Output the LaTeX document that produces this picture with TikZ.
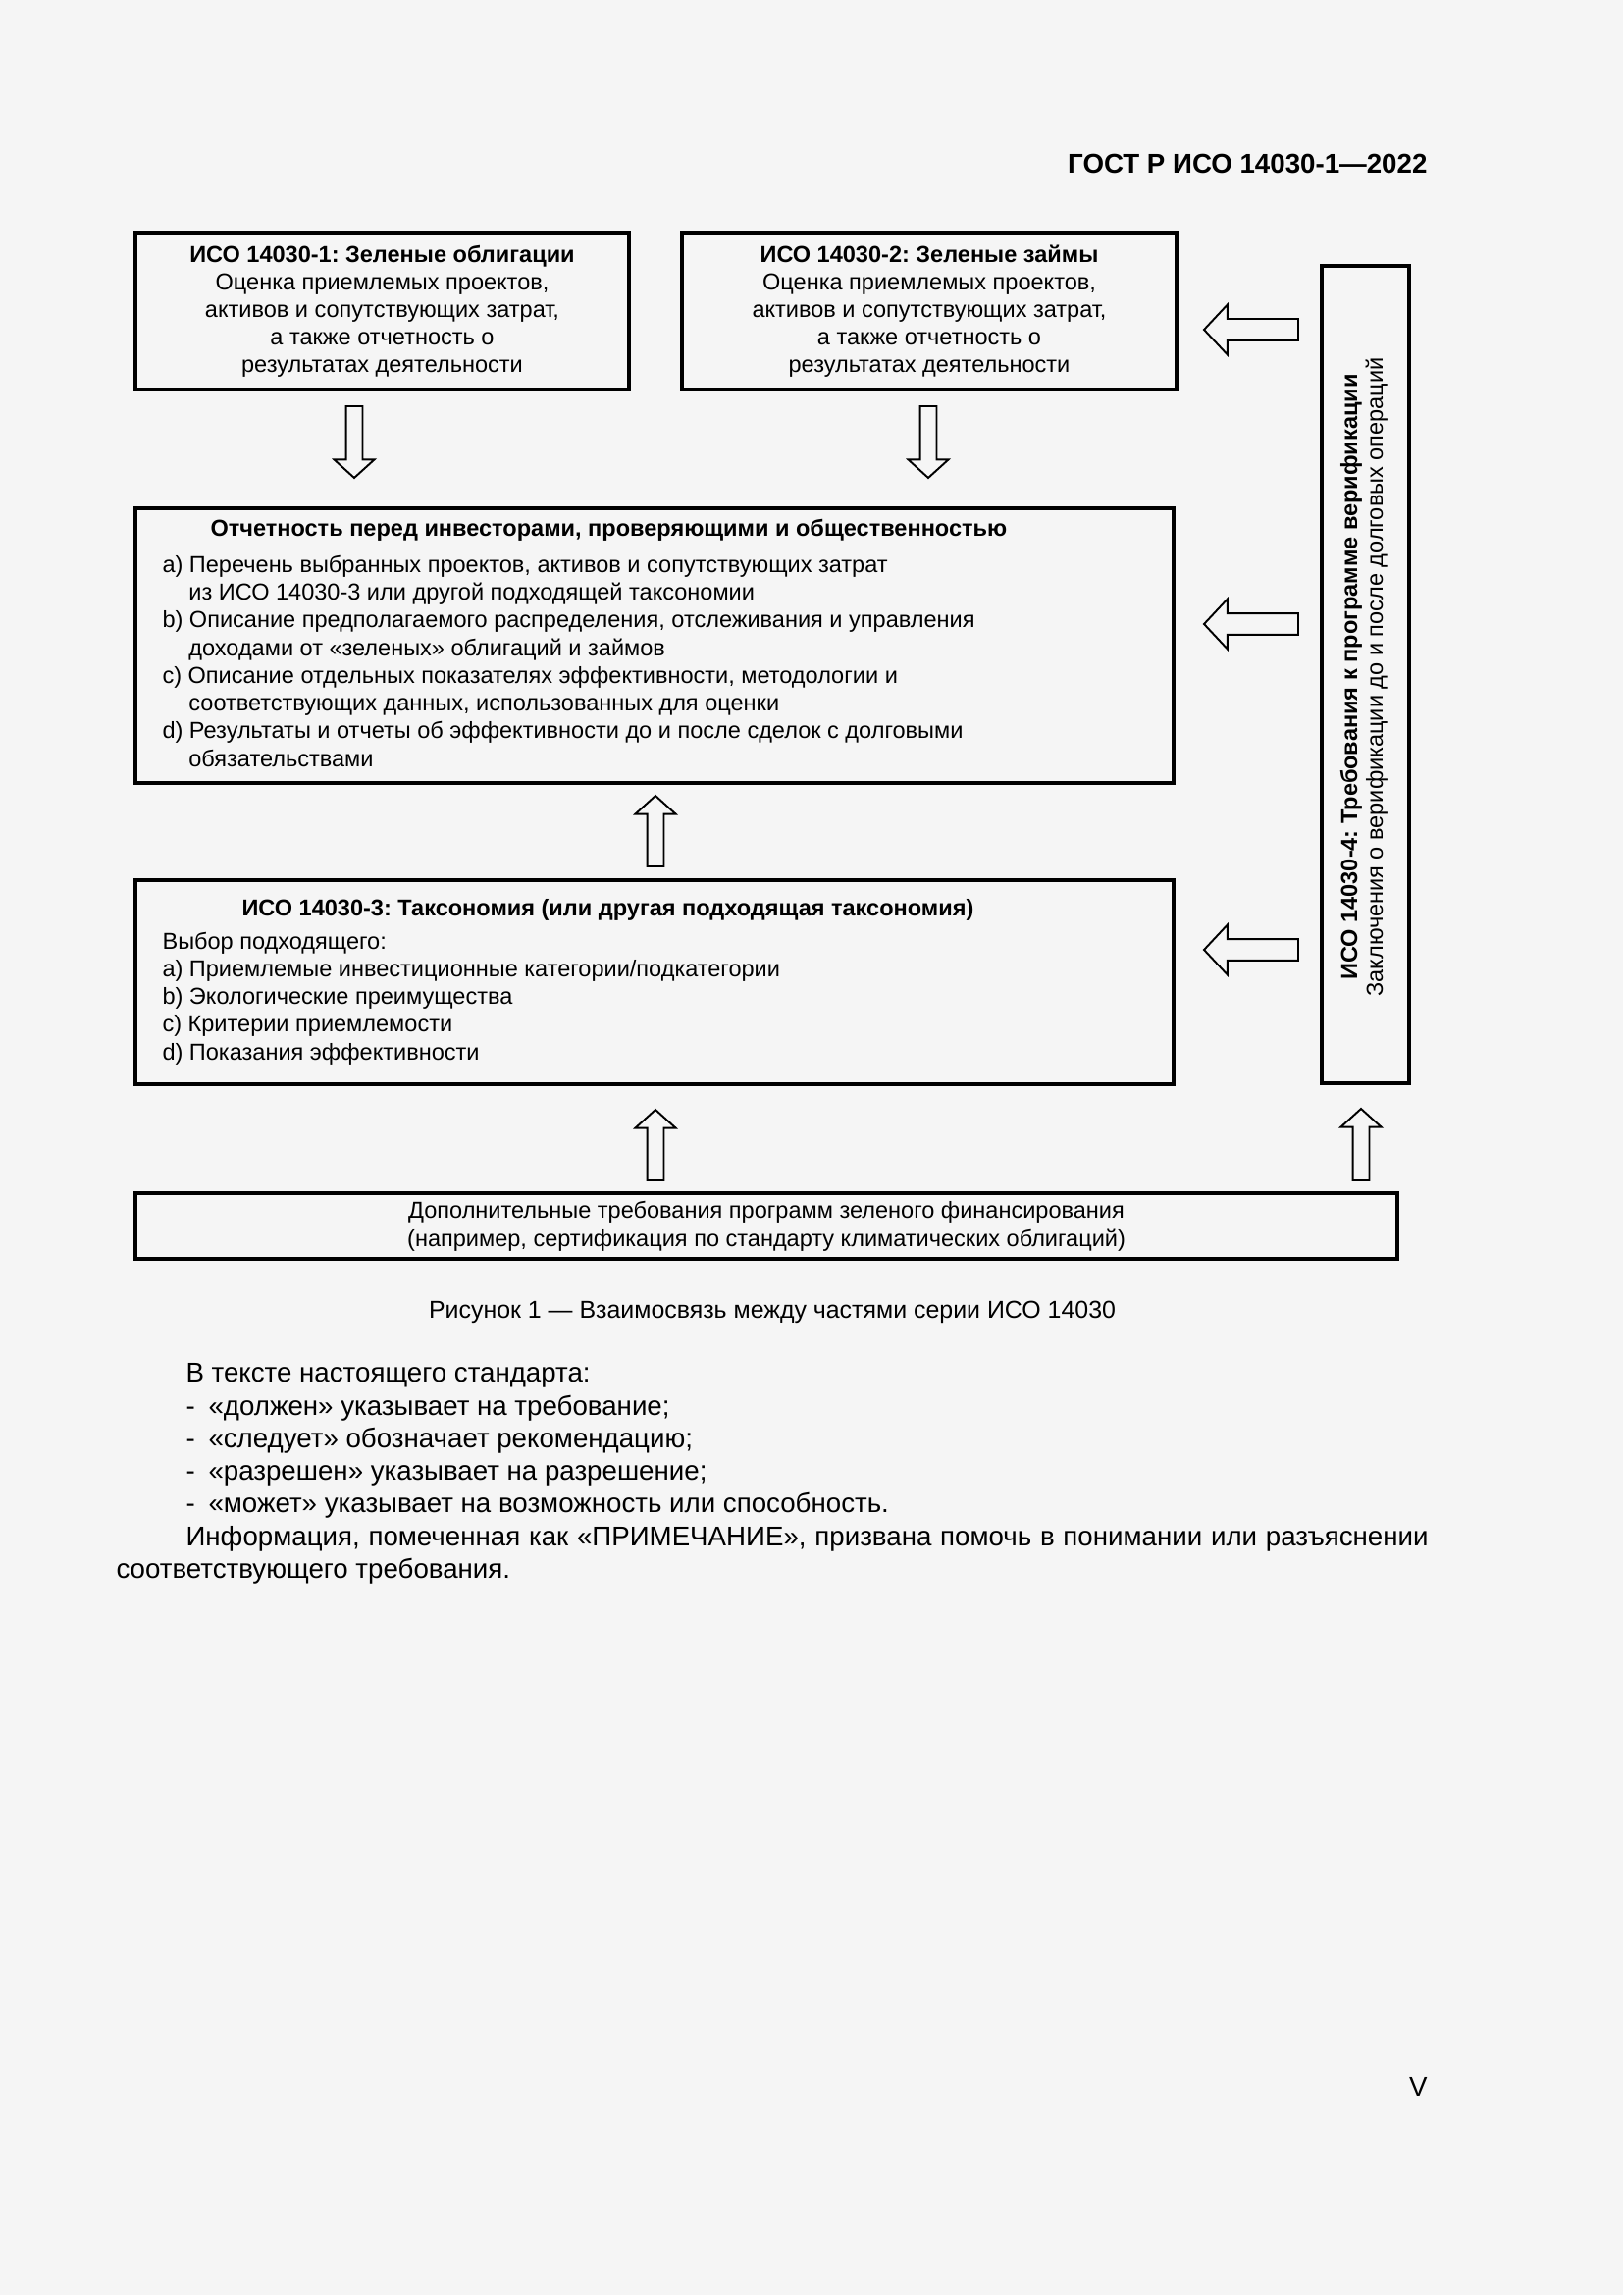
\documentclass[tikz,border=0pt]{standalone}
\usepackage{fontspec}
\setmainfont{Liberation Sans}
\usetikzlibrary{calc,fit}
\definecolor{pagebg}{RGB}{245,245,245}
\frenchspacing
\begin{document}
\begin{tikzpicture}[x=0.012696cm, y=-0.012696cm,
		box/.style={draw, line width=1.2pt, inner sep=0pt},
		txt/.style={font=\fontsize{8.5}{10.2}\selectfont, inner sep=0pt},
		ctxt/.style={txt, align=center, anchor=base},
		ltxt/.style={txt, align=left, anchor=base west},
		body/.style={font=\fontsize{10}{12}\selectfont, inner sep=0pt, anchor=base west},
		hollow/.style n args={3}{draw, line width=0.7pt, fill=pagebg,
			to path={let \p1=($(\tikztotarget)!#3!(\tikztostart)$) in
				($(\tikztostart)!#1!90:(\tikztotarget)$) -- ($(\p1)!#1!90:(\tikztotarget)$)
				-- ($(\p1)!#2!90:(\tikztotarget)$) -- (\tikztotarget)
				-- ($(\p1)!#2!-90:(\tikztotarget)$) -- ($(\p1)!#1!-90:(\tikztotarget)$)
				-- ($(\tikztostart)!#1!-90:(\tikztotarget)$) -- cycle}},
		varrow/.style={hollow={3.06pt}{7.4pt}{6.7pt}},
		harrow/.style={hollow={3.96pt}{9.2pt}{8.6pt}}]
	\fill [pagebg] (0,0) rectangle (1654,2339);
	\useasboundingbox (0,0) rectangle (1654,2339);
	% header
	\node [body, anchor=base east, font=\bfseries\fontsize{10}{12}\selectfont] (head) at (1455,177) {ГОСТ Р ИСО 14030-1—2022};
	% boxes
	\node [box, fit={(138,237) (641,397)}] (iso1) {};
	\node [box, fit={(695,237) (1199,397)}] (iso2) {};
	\node [box, fit={(138,518) (1196,798)}] (report) {};
	\node [box, fit={(138,897) (1196,1105)}] (iso3) {};
	\node [box, fit={(138,1216) (1424,1283)}] (extra) {};
	\node [box, fit={(1347,271) (1436,1104)}] (iso4) {};
	% texts in boxes (base = last line)
	\node [ctxt] (iso1t) at (389.5,380) {\textbf{ИСО 14030-1: Зеленые облигации}\\Оценка приемлемых проектов,\\активов и сопутствующих затрат,\\а также отчетность о\\результатах деятельности};
	\node [ctxt] (iso2t) at (947,380) {\textbf{ИСО 14030-2: Зеленые займы}\\Оценка приемлемых проектов,\\активов и сопутствующих затрат,\\а также отчетность о\\результатах деятельности};
	\node [ltxt, font=\bfseries\fontsize{8.5}{10.2}\selectfont] (reporth) at (214,547) {Отчетность перед инвесторами, проверяющими и общественностью};
	\node [ltxt] (reportt) at (165,781) {a) Перечень выбранных проектов, активов и сопутствующих затрат\\
		\hspace*{9.7pt}из ИСО 14030-3 или другой подходящей таксономии\\
		b) Описание предполагаемого распределения, отслеживания и управления\\
		\hspace*{9.7pt}доходами от «зеленых» облигаций и займов\\
		c) Описание отдельных показателях эффективности, методологии и\\
		\hspace*{9.7pt}соответствующих данных, использованных для оценки\\
		d) Результаты и отчеты об эффективности до и после сделок с долговыми\\
		\hspace*{9.7pt}обязательствами};
	\node [ltxt, font=\bfseries\fontsize{8.5}{10.2}\selectfont] (iso3h) at (246,933) {ИСО 14030-3: Таксономия (или другая подходящая таксономия)};
	\node [ltxt] (iso3t) at (165,1080) {Выбор подходящего:\\a) Приемлемые инвестиционные категории/подкатегории\\b) Экологические преимущества\\c) Критерии приемлемости\\d) Показания эффективности};
	\node [ctxt] (extrat) at (781,1270) {Дополнительные требования программ зеленого финансирования\\(например, сертификация по стандарту климатических облигаций)};
	\node [txt, align=center, rotate=90] (iso4t) at (1390,690) {\textbf{ИСО 14030-4: Требования к программе верификации}\\[-0.8pt]Заключения о верификации до и после долговых операций};
	% arrows
	\coordinate (d1s) at (361,414);  \coordinate (d1e) at (361,487);
	\coordinate (d2s) at (946,414);  \coordinate (d2e) at (946,487);
	\coordinate (u1s) at (668,883);  \coordinate (u1e) at (668,811);
	\coordinate (u2s) at (668,1203); \coordinate (u2e) at (668,1131);
	\coordinate (u3s) at (1387,1203); \coordinate (u3e) at (1387,1130);
	\coordinate (l1s) at (1323,336); \coordinate (l1e) at (1227,336);
	\coordinate (l2s) at (1323,636); \coordinate (l2e) at (1227,636);
	\coordinate (l3s) at (1323,968); \coordinate (l3e) at (1227,968);
	\draw [varrow] (d1s) to (d1e);
	\draw [varrow] (d2s) to (d2e);
	\draw [varrow] (u1s) to (u1e);
	\draw [varrow] (u2s) to (u2e);
	\draw [varrow] (u3s) to (u3e);
	\draw [harrow] (l1s) to (l1e);
	\draw [harrow] (l2s) to (l2e);
	\draw [harrow] (l3s) to (l3e);
	% caption and text
	\node [body, anchor=base, font=\fontsize{9}{11}\selectfont] (cap) at (787,1343) {Рисунок 1 — Взаимосвязь между частями серии ИСО 14030};
	\node [body] (p1) at (189,1408) {В тексте настоящего стандарта:};
	\node [body] (p2) at (189,1442) {\makebox[8.3pt][l]{-}«должен» указывает на требование;};
	\node [body] (p3) at (189,1475) {\makebox[8.3pt][l]{-}«следует» обозначает рекомендацию;};
	\node [body] (p4) at (189,1508) {\makebox[8.3pt][l]{-}«разрешен» указывает на разрешение;};
	\node [body] (p5) at (189,1541) {\makebox[8.3pt][l]{-}«может» указывает на возможность или способность.};
	\node [body] (p6) at (189,1575) {\makebox[16.07cm][s]{Информация, помеченная как «ПРИМЕЧАНИЕ», призвана помочь в понимании или разъяснении}};
	\node [body] (p7) at (118,1608) {соответствующего требования.};
	\node [body, anchor=base east] (pnum) at (1455,2136) {V};
\end{tikzpicture}
\end{document}
